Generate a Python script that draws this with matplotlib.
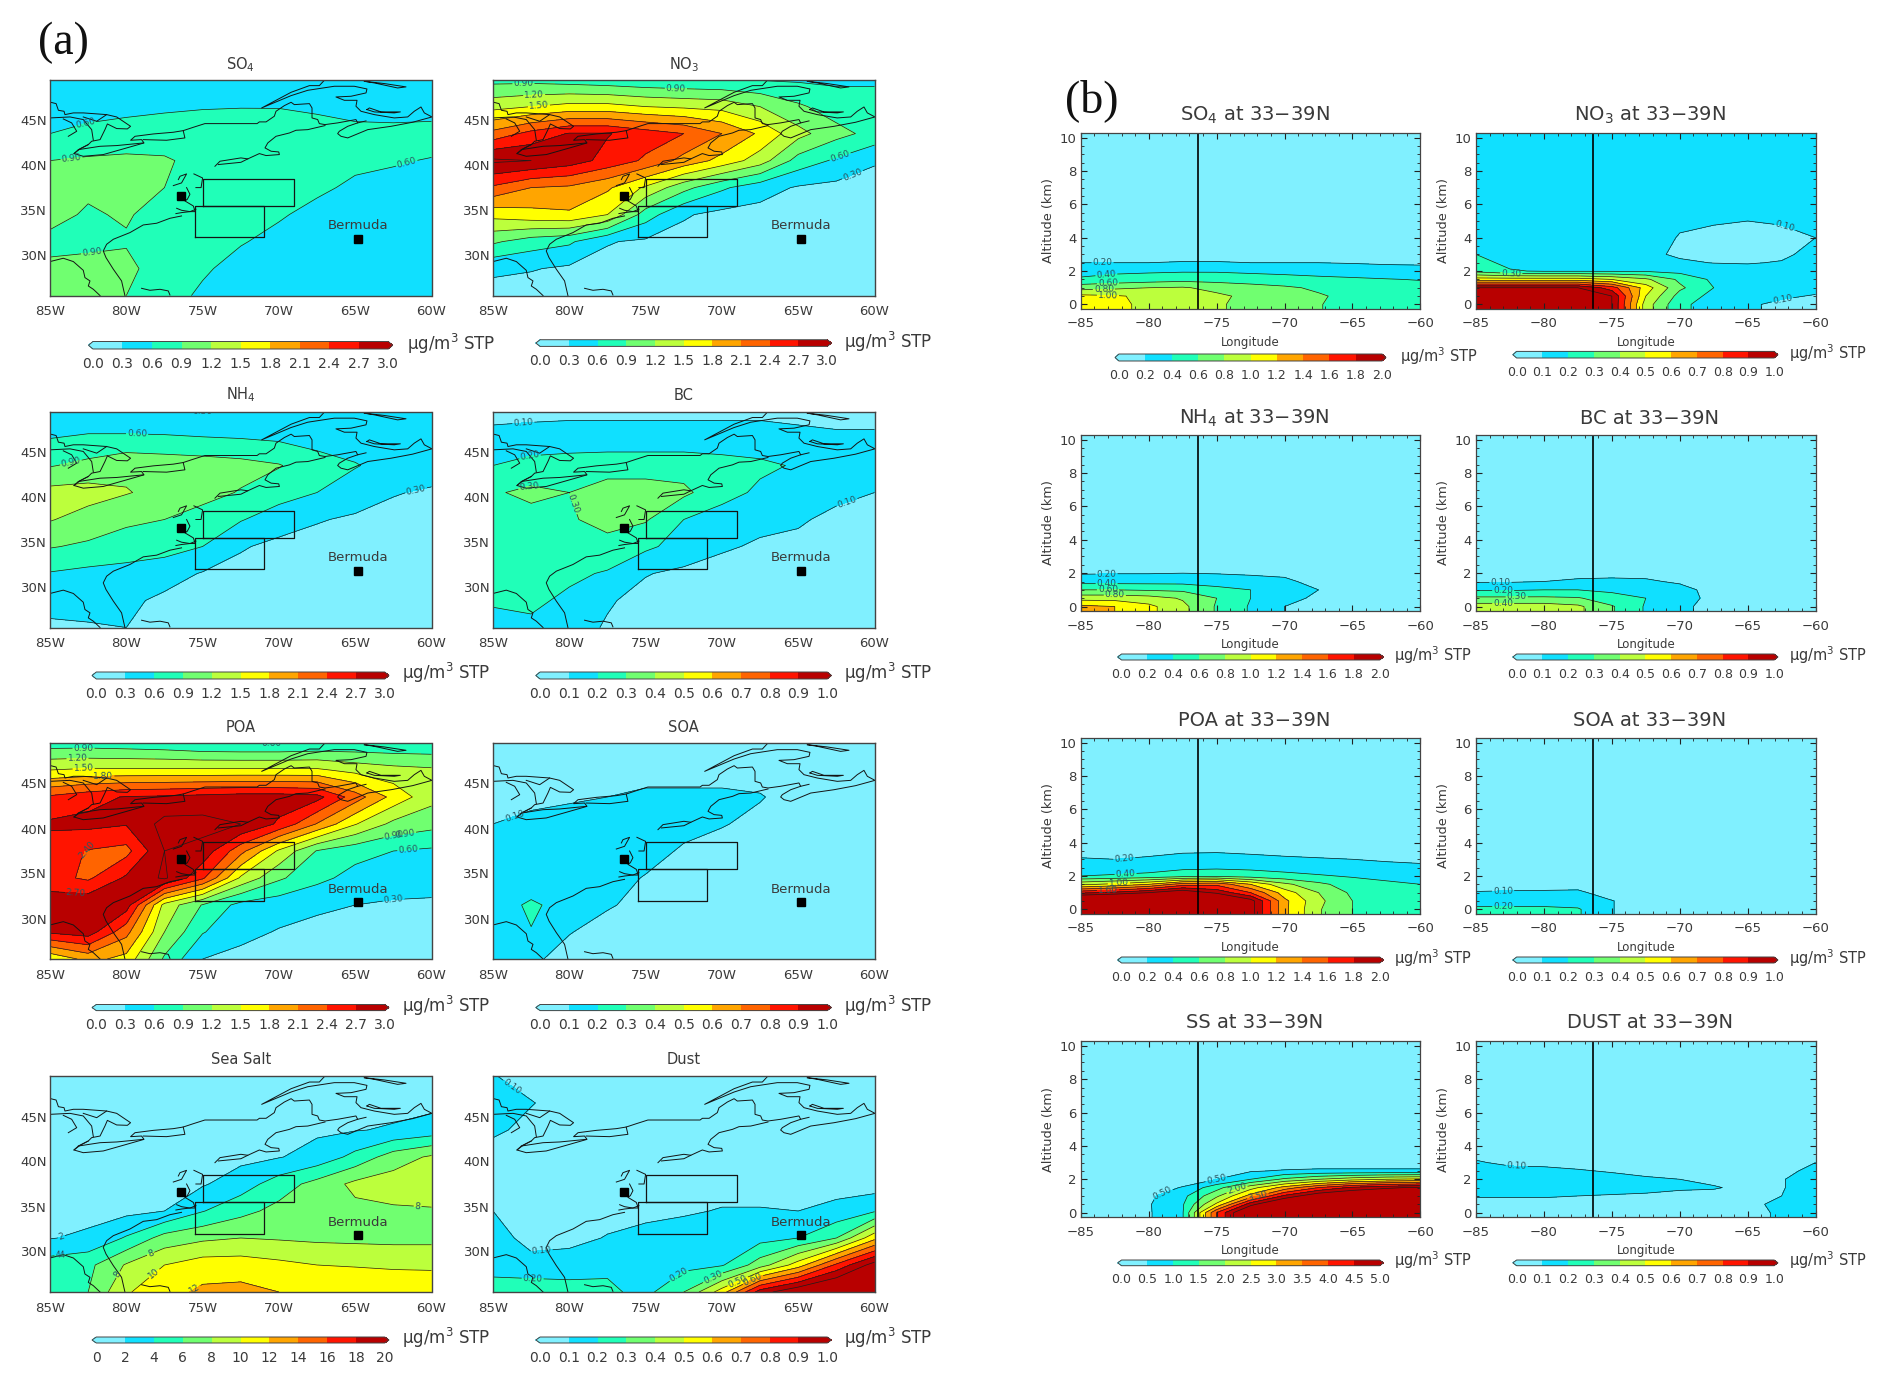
import numpy as np
import matplotlib
matplotlib.use("Agg")
import matplotlib.pyplot as plt
from matplotlib.colors import ListedColormap, BoundaryNorm
from matplotlib.ticker import MultipleLocator

W, H = 1892, 1385
plt.rcParams['font.family'] = ['DejaVu Sans']
plt.rcParams['mathtext.default'] = 'regular'
INK = '#3a3a3a'

# ---------------------- shared grids ----------------------
MAP_LON = [-85, -82.5, -80, -77.5, -75, -72.5, -70, -67.5, -65, -62.5, -60]
MAP_LAT = [49.5, 46.5, 43.5, 40.5, 37.5, 34.5, 31.5, 28.5, 25.5]
SEC_ALT = [10.5, 6, 5, 4, 3, 2.5, 2, 1.5, 1, 0.5, 0, -0.3]

LEV_3 = [0.0, 0.3, 0.6, 0.9, 1.2, 1.5, 1.8, 2.1, 2.4, 2.7, 3.0]
LEV_1 = [0.0, 0.1, 0.2, 0.3, 0.4, 0.5, 0.6, 0.7, 0.8, 0.9, 1.0]
LEV_2 = [0.0, 0.2, 0.4, 0.6, 0.8, 1.0, 1.2, 1.4, 1.6, 1.8, 2.0]
LEV_5 = [0.0, 0.5, 1.0, 1.5, 2.0, 2.5, 3.0, 3.5, 4.0, 4.5, 5.0]
LEV_20 = [0, 2, 4, 6, 8, 10, 12, 14, 16, 18, 20]

COLORS = ['#80F0FF', '#10E0FF', '#20FFB8', '#70FF70', '#BCFF3C', '#FFFF00',
          '#FFA500', '#FF6400', '#FF1400', '#B80000']

# ---------------------- horizontal maps, µg/m3 ----------------------
SO4_MAP = [
 [.40,.40,.42,.42,.42,.42,.42,.42,.42,.42,.42],
 [.45,.48,.52,.55,.58,.59,.59,.56,.50,.45,.42],
 [.60,.68,.72,.76,.76,.76,.74,.70,.68,.70,.75],
 [.90,.94,.96,.93,.82,.76,.72,.69,.66,.63,.58],
 [.95,.93,.93,.90,.80,.74,.70,.65,.55,.50,.45],
 [.95,.88,.92,.82,.72,.68,.63,.52,.45,.40,.38],
 [.86,.87,.88,.78,.68,.62,.52,.45,.40,.38,.35],
 [.93,.94,.96,.78,.64,.50,.45,.42,.38,.35,.33],
 [.96,.96,.90,.72,.55,.48,.42,.40,.36,.33,.32]]
NO3_MAP = [
 [.80,.80,.75,.70,.65,.62,.60,.58,.56,.55,.55],
 [1.4,1.5,1.6,1.6,1.5,1.45,1.4,1.2,.95,.75,.75],
 [2.2,2.5,2.72,2.72,2.55,2.4,2.1,1.75,1.3,1.0,.80],
 [3.05,3.0,2.85,2.6,2.35,2.0,1.7,1.35,.78,.55,.33],
 [2.35,2.1,2.05,1.85,1.45,1.0,.65,.42,.27,.22,.18],
 [1.6,1.7,1.75,1.5,.75,.33,.22,.20,.18,.15,.13],
 [.95,.75,.65,.32,.25,.20,.17,.15,.13,.12,.10],
 [.35,.32,.25,.20,.15,.12,.10,.10,.10,.10,.08],
 [.20,.15,.12,.10,.08,.08,.06,.05,.05,.05,.05]]
NH4_MAP = [
 [.30,.32,.32,.30,.30,.32,.32,.32,.32,.32,.32],
 [.60,.66,.66,.65,.62,.60,.56,.50,.45,.42,.42],
 [.88,.98,1.12,1.08,1.05,1.0,.92,.72,.62,.48,.45],
 [1.3,1.32,1.22,1.1,1.0,.88,.72,.60,.44,.32,.26],
 [1.22,1.08,.95,.90,.78,.62,.45,.32,.26,.20,.18],
 [.92,.85,.78,.72,.60,.33,.22,.20,.15,.12,.10],
 [.58,.52,.48,.42,.28,.20,.15,.12,.10,.10,.10],
 [.40,.38,.36,.24,.15,.10,.10,.10,.10,.10,.10],
 [.25,.28,.30,.20,.12,.10,.10,.10,.10,.10,.10]]
BC_MAP = [
 [.08,.08,.08,.08,.08,.08,.08,.08,.08,.08,.08],
 [.12,.13,.14,.14,.14,.14,.14,.14,.12,.11,.11],
 [.20,.24,.25,.26,.26,.26,.24,.22,.19,.14,.13],
 [.29,.32,.30,.34,.34,.32,.24,.18,.15,.12,.10],
 [.27,.27,.29,.33,.31,.20,.15,.12,.11,.08,.07],
 [.24,.24,.25,.27,.22,.16,.11,.09,.08,.07,.07],
 [.23,.23,.22,.19,.105,.08,.07,.07,.07,.07,.06],
 [.21,.22,.18,.11,.07,.06,.06,.05,.05,.05,.05],
 [.17,.18,.14,.09,.05,.05,.05,.05,.05,.05,.05]]
POA_MAP = [
 [.75,.75,.72,.68,.60,.58,.58,.62,.65,.65,.65],
 [1.5,1.55,1.55,1.55,1.55,1.55,1.55,1.55,1.4,1.3,1.25],
 [2.45,2.6,2.72,2.75,2.8,2.85,2.85,2.8,2.25,1.7,1.3],
 [2.75,2.78,2.72,3.1,3.1,3.0,2.65,2.08,1.52,1.12,1.0],
 [2.55,2.38,2.3,3.0,2.9,2.2,1.45,.88,.70,.60,.55],
 [2.5,2.35,2.75,3.05,2.45,1.45,.95,.68,.50,.42,.38],
 [2.9,2.95,2.85,1.4,.88,.50,.42,.35,.30,.27,.27],
 [2.75,2.85,2.2,1.2,.62,.38,.28,.22,.18,.15,.12],
 [1.55,1.9,1.7,.85,.30,.22,.18,.15,.13,.10,.10]]
SOA_MAP = [
 [.04,.04,.04,.04,.04,.04,.04,.04,.04,.04,.04],
 [.05,.05,.06,.07,.08,.08,.08,.07,.06,.05,.05],
 [.07,.08,.09,.10,.11,.11,.11,.105,.07,.05,.05],
 [.10,.12,.13,.14,.14,.125,.105,.08,.06,.05,.05],
 [.13,.14,.14,.14,.13,.09,.07,.06,.05,.05,.04],
 [.13,.12,.14,.13,.095,.07,.05,.05,.05,.04,.04],
 [.14,.22,.15,.11,.07,.05,.05,.04,.04,.04,.04],
 [.14,.195,.105,.06,.05,.04,.04,.04,.04,.04,.04],
 [.12,.12,.06,.05,.04,.04,.04,.04,.04,.04,.04]]
SEA_SALT_MAP = [
 [.5,.5,.5,.5,.5,.5,.5,.5,.5,.5,.5],
 [.5,.5,.5,.5,.6,.7,.8,1.0,1.2,1.4,1.5],
 [.6,.6,.7,.8,1.0,1.2,1.4,1.7,1.9,2.2,2.8],
 [.7,.8,1.0,1.1,1.3,1.5,1.9,2.7,4.6,7.0,8.3],
 [1.0,1.1,1.2,1.4,1.8,3.0,5.0,6.7,8.5,9.0,9.2],
 [1.2,1.3,1.5,2.0,3.9,5.4,6.6,7.2,7.5,7.7,7.8],
 [1.9,2.4,4.2,6.8,7.6,8.0,7.8,7.6,7.5,7.4,7.4],
 [5.0,5.5,8.2,10.0,11.0,11.0,10.5,10.0,9.9,9.8,9.8],
 [5.0,6.0,9.8,11.2,12.4,12.6,12.0,11.5,11.2,11.0,10.8]]
DUST_MAP = [
 [.105,.06,.05,.05,.05,.05,.05,.05,.05,.05,.05],
 [.14,.105,.06,.05,.05,.05,.05,.05,.05,.05,.05],
 [.12,.07,.05,.05,.05,.05,.05,.05,.05,.05,.05],
 [.05,.05,.05,.05,.05,.05,.05,.05,.05,.05,.05],
 [.06,.06,.05,.05,.05,.05,.07,.07,.06,.06,.05],
 [.10,.08,.07,.07,.08,.09,.105,.105,.10,.13,.19],
 [.15,.06,.075,.105,.125,.14,.15,.165,.20,.30,.57],
 [.16,.14,.14,.18,.15,.17,.19,.35,.55,.82,1.05],
 [.25,.26,.25,.22,.17,.30,.55,.95,1.1,1.2,1.3]]

# ---------------------- cross sections, µg/m3 ----------------------
SO4_SEC = [
 [.02]*11, [.03]*11, [.05]*11, [.08]*11, [.14]*11,
 [.20,.20,.20,.21,.21,.20,.20,.20,.19,.18,.18],
 [.35,.36,.37,.38,.38,.36,.34,.32,.30,.27,.25],
 [.42,.47,.50,.53,.52,.50,.48,.45,.43,.41,.39],
 [.72,.76,.80,.82,.74,.68,.63,.57,.52,.50,.47],
 [1.05,1.02,.96,.90,.84,.75,.70,.62,.55,.52,.50],
 [1.10,1.05,.95,.90,.82,.75,.68,.61,.53,.50,.48],
 [1.10,1.05,.95,.90,.82,.75,.68,.61,.53,.50,.48]]
NO3_SEC = [
 [.13]*11, [.13]*11,
 [.13,.13,.13,.13,.12,.11,.105,.105,.10,.105,.12],
 [.15,.14,.13,.13,.12,.115,.098,.085,.08,.085,.10],
 [.20,.16,.15,.14,.13,.115,.09,.08,.075,.085,.125],
 [.24,.17,.15,.14,.13,.12,.11,.098,.095,.105,.125],
 [.27,.21,.19,.19,.19,.19,.17,.14,.13,.13,.13],
 [.55,.55,.55,.55,.50,.42,.28,.18,.14,.14,.14],
 [1.0,1.0,1.0,1.0,.85,.55,.32,.20,.15,.13,.12],
 [1.4,1.4,1.35,1.25,1.0,.50,.26,.17,.13,.11,.095],
 [1.5,1.5,1.4,1.3,1.0,.45,.22,.16,.11,.085,.08],
 [1.5,1.5,1.4,1.3,1.0,.45,.22,.16,.11,.085,.08]]
NH4_SEC = [
 [.01]*11, [.02]*11, [.03]*11, [.05]*11, [.08]*11,
 [.12,.12,.13,.14,.12,.11,.10,.08,.06,.05,.05],
 [.18,.19,.19,.20,.19,.18,.17,.10,.07,.06,.05],
 [.33,.33,.33,.33,.31,.26,.23,.15,.09,.07,.05],
 [.60,.60,.58,.56,.46,.40,.27,.20,.12,.08,.06],
 [.92,.92,.88,.78,.60,.40,.25,.17,.10,.07,.05],
 [1.25,1.2,1.05,.85,.58,.38,.20,.14,.09,.06,.05],
 [1.25,1.2,1.05,.85,.58,.38,.20,.14,.09,.06,.05]]
BC_SEC = [
 [.01]*11, [.01]*11, [.02]*11, [.02]*11, [.03]*11, [.04]*11,
 [.06,.06,.07,.08,.08,.08,.06,.04,.03,.02,.02],
 [.09,.09,.10,.11,.115,.11,.09,.05,.03,.02,.02],
 [.19,.19,.20,.20,.18,.15,.125,.075,.03,.02,.02],
 [.32,.32,.32,.31,.24,.20,.13,.08,.03,.02,.02],
 [.45,.45,.45,.42,.31,.19,.12,.07,.03,.02,.02],
 [.45,.45,.45,.42,.31,.19,.12,.07,.03,.02,.02]]
POA_SEC = [
 [.01]*11, [.03]*11, [.06]*11,
 [.10,.10,.10,.13,.14,.13,.11,.10,.09,.08,.07],
 [.21,.20,.22,.24,.24,.23,.22,.21,.20,.18,.17],
 [.32,.31,.32,.36,.37,.36,.33,.30,.28,.25,.23],
 [.40,.42,.45,.52,.55,.50,.46,.42,.38,.33,.30],
 [.95,1.05,1.2,1.5,1.55,1.2,.85,.65,.50,.45,.40],
 [1.75,1.85,2.0,2.2,1.95,1.6,1.1,.80,.56,.47,.42],
 [2.6,2.7,2.8,2.9,2.6,2.1,1.25,.85,.60,.50,.44],
 [2.8,2.9,3.0,3.0,2.7,2.1,1.25,.82,.60,.50,.44],
 [2.8,2.9,3.0,3.0,2.7,2.1,1.25,.82,.60,.50,.44]]
SOA_SEC = [
 [.01]*11, [.01]*11, [.01]*11, [.02]*11, [.02]*11, [.02]*11, [.03]*11,
 [.04,.05,.06,.06,.04,.02,.02,.02,.02,.02,.02],
 [.11,.115,.115,.12,.05,.02,.02,.02,.02,.02,.02],
 [.16,.16,.16,.15,.105,.03,.02,.02,.02,.02,.02],
 [.22,.22,.22,.21,.105,.03,.02,.02,.02,.02,.02],
 [.22,.22,.22,.21,.105,.03,.02,.02,.02,.02,.02]]
SS_SEC = [
 [.02]*11, [.02]*11, [.02]*11, [.02]*11,
 [.03,.03,.03,.05,.10,.15,.18,.20,.20,.20,.20],
 [.03,.03,.04,.06,.30,.45,.55,.60,.60,.60,.60],
 [.03,.03,.05,.12,.50,1.0,1.6,2.0,2.3,2.5,2.6],
 [.03,.05,.12,.55,1.3,2.3,3.2,4.0,4.6,4.9,5.1],
 [.03,.05,.40,.85,1.9,3.2,4.6,5.5,5.8,5.9,6.0],
 [.03,.06,.46,.95,2.6,4.8,6.0,6.5,6.6,6.6,6.6],
 [.03,.06,.45,.96,4.0,6.0,7.0,7.0,7.0,7.0,7.0],
 [.03,.06,.45,.96,4.0,6.0,7.0,7.0,7.0,7.0,7.0]]
DUST_SEC = [
 [.02]*11, [.03]*11, [.04]*11,
 [.07,.07,.06,.06,.05,.05,.05,.05,.05,.05,.07],
 [.105,.09,.09,.08,.07,.06,.05,.05,.05,.06,.10],
 [.12,.115,.11,.105,.095,.08,.07,.06,.06,.08,.12],
 [.13,.13,.13,.125,.12,.11,.10,.085,.07,.095,.14],
 [.13,.13,.13,.13,.125,.12,.11,.105,.085,.095,.14],
 [.105,.105,.105,.10,.095,.09,.08,.08,.08,.10,.14],
 [.08,.08,.08,.08,.07,.07,.06,.06,.09,.11,.14],
 [.07,.07,.07,.07,.06,.06,.05,.05,.08,.11,.13],
 [.07,.07,.07,.07,.06,.06,.05,.05,.08,.11,.13]]

# ---------------------- coastlines (lon, lat) ----------------------
COAST = [
 [(-85,47.0),(-84.6,46.83),(-84.45,46.09),(-84.08,45.98),(-84.02,45.61),(-83.47,45.8),(-82.82,45.8),
  (-81.29,45.61),(-80.63,45.35),(-79.72,44.31),(-79.93,44.02),(-80.63,44.06),(-81.24,44.57),(-81.4,43.94),
  (-81.72,42.83),(-82.27,42.65),(-82.49,42.28),(-83.03,41.8),(-83.43,41.28),(-82.82,40.98),(-81.51,41.17),
  (-80.2,41.8),(-78.84,42.46),(-79.0,42.83),(-79.72,42.76),(-79.43,43.2),(-78.23,43.46),(-76.92,43.65),
  (-76.27,43.83),(-75.61,44.2),(-74.85,44.61),(-72.49,44.61),(-71.43,44.61),(-71.28,44.8),(-70.84,44.8),
  (-70.3,45.43),(-70.19,45.98),(-69.64,46.61),(-69.2,46.98),(-68.99,46.72),(-68.0,46.83),(-67.83,46.35),
  (-67.83,45.24),(-67.46,45.06),(-67.35,44.61),(-66.98,44.5),(-66.15,44.69),(-64.95,45.06),(-64.84,44.69),
  (-64.29,44.91)],
 [(-83.14,41.72),(-81.72,42.09),(-80.63,42.17),(-78.89,42.46)],
 [(-83.43,41.28),(-83.14,41.72),(-82.49,42.28)],
 [(-76.27,43.83),(-76.16,43.02),(-77.36,42.76),(-78.89,42.83)],
 [(-85,45.24),(-83.69,45.35),(-82.82,45.06),(-82.27,43.94),(-82.16,42.76)],
 [(-83.8,43.2),(-83.25,43.76),(-83.58,44.69),(-84.13,45.13)],
 [(-82.82,45.35),(-81.94,44.87),(-81.29,45.61)],
 [(-76.92,37.72),(-76.38,38.02),(-76.05,39.02),(-76.48,38.76),(-76.59,38.39)],
 [(-75.57,39.02),(-75.0,38.57),(-75.1,37.5),(-75.44,37.5)],
 [(-76.05,37.5),(-75.83,36.76),(-76.0,36.2),(-76.16,36.02),(-75.61,35.46),(-75.48,34.83),(-75.83,34.83),
  (-76.38,34.98),(-76.7,35.2)],
 [(-76.75,34.61),(-76.38,34.72),(-75.83,34.83),(-75.44,35.09)],
 [(-74.19,39.87),(-73.86,40.43),(-72.49,40.8),(-72.04,40.69),(-71.28,41.28),(-70.84,41.06),(-69.97,41.17),
  (-70.01,41.46),(-70.51,41.54),(-70.91,41.91),(-70.73,42.46),(-70.19,43.2),(-69.31,43.57),(-68.88,43.87),
  (-68.11,43.94),(-66.98,44.39)],
 [(-73.97,40.06),(-72.49,40.31),(-72.04,40.69)],
 [(-64.84,44.69),(-65.49,44.31),(-66.04,43.76),(-66.15,43.5),(-65.93,43.2),(-65.49,43.02),(-64.18,43.94),
  (-62.65,44.31),(-61.24,44.76),(-59.97,45.35),(-60.47,45.8),(-60.69,46.46),(-61.13,45.98),(-61.56,45.35),
  (-62.44,45.24),(-63.75,45.61),(-64.62,45.98),(-64.95,46.54),(-64.88,47.2),(-65.71,47.2),(-66.26,47.57),
  (-65.27,47.65),(-64.29,48.02),(-64.23,48.46),(-65.06,48.76),(-66.37,48.76),(-68.11,48.31),(-69.2,47.72),
  (-71.13,46.35),(-69.2,48.09),(-68.0,48.83),(-67.35,48.83),(-66.98,49.5)],
 [(-64.23,46.17),(-64.07,46.35),(-63.31,45.91),(-62.04,45.91),(-62.44,45.8),(-63.75,45.91),(-64.23,46.17)],
 [(-64.4,49.31),(-63.09,49.06),(-61.67,48.69),(-62.22,48.57),(-63.75,49.13),(-64.4,49.31)],
 [(-76.38,34.35),(-77.14,34.09),(-78.01,33.54),(-78.89,33.35),(-79.76,32.5),(-80.85,31.76),(-81.29,31.2),
  (-81.51,30.46),(-81.33,29.72),(-80.85,28.43),(-80.31,27.13),(-80.09,25.5)],
 [(-85,29.28),(-84.13,29.65),(-83.47,29.28),(-82.82,28.31),(-82.71,27.5),(-82.38,27.13),(-82.49,26.57),
  (-82.16,26.2),(-81.72,25.5)],
 [(-79.0,26.31),(-78.45,26.09),(-77.79,26.2),(-77.25,26.02),(-77.14,25.57)],
]
BOX_NORTH = [(-75, 35.5), (-69, 35.5), (-69, 38.5), (-75, 38.5), (-75, 35.5)]
BOX_SOUTH = [(-75.5, 32), (-71, 32), (-71, 35.5), (-75.5, 35.5), (-75.5, 32)]
SITE = (-76.4, 36.6)
BERMUDA = (-64.8, 31.8)

# ---------------------- panel tables ----------------------
# (title, data, levels, format, col, row, colorbar px (x0,x1,y0,y1), unit px (x,y), contour labels)
MAP_COLS = [50, 493]
MAP_ROWS = [79.6, 411.5, 743, 1076]
MAP_W, MAP_H = 381.5, 216
MAP_TITLE_Y = [65, 395, 728, 1060]
MAPS = [
 ('SO$_4$', SO4_MAP, LEV_3, '%.2f', 0, 0, (88.5, 392.7, 341.5, 349), (407, 344),
  [(-61.7, 40.7), (-82.3, 31.0), (-83.6, 40.9), (-82.6, 44.1)]),
 ('NO$_3$', NO3_MAP, LEV_3, '%.2f', 1, 0, (535.8, 831.5, 339.7, 346.4), (844, 342),
  [(-83, 48.6), (-82.3, 47.6), (-82, 46.8), (-62.3, 41.2), (-61.5, 39.2), (-73, 49.3)]),
 ('NH$_4$', NH4_MAP, LEV_3, '%.2f', 0, 1, (92, 389, 672, 679), (402, 673),
  [(-75, 49.4), (-79.3, 46.6), (-61, 40.7), (-83.6, 43.6)]),
 ('BC', BC_MAP, LEV_1, '%.2f', 1, 1, (535.8, 831.5, 672, 679), (844, 673),
  [(-83, 48.0), (-80, 39.1), (-82.5, 40.3), (-61.8, 39.4), (-82.5, 44.0)]),
 ('POA', POA_MAP, LEV_3, '%.2f', 0, 2, (92, 389, 1004.5, 1010.6), (402, 1006),
  [(-82.8, 48.7), (-83.2, 47.8), (-82.8, 46.9), (-81.5, 45.7), (-82.5, 37.3), (-83.3, 32.9),
   (-62.5, 39.9), (-62, 38.9), (-61.5, 37.2), (-62.5, 32.6), (-70.5, 49.3)]),
 ('SOA', SOA_MAP, LEV_1, '%.2f', 1, 2, (535.8, 831.5, 1004.5, 1010.6), (844, 1006),
  [(-83.5, 41.0)]),
 ('Sea Salt', SEA_SALT_MAP, LEV_20, '%d', 0, 3, (92, 389, 1337, 1343), (402, 1338),
  [(-84.2, 31.3), (-84.2, 29.4), (-84.2, 27.8), (-80, 26.9), (-60.9, 35.3), (-78.2, 28.9), (-78, 27.2), (-75.5, 25.8)]),
 ('Dust', DUST_MAP, LEV_1, '%.2f', 1, 3, (535.8, 831.5, 1337, 1343), (844, 1338),
  [(-83.9, 47.9), (-81.8, 29.8), (-82.4, 27.1), (-72.5, 26.6), (-70.5, 26.8), (-69, 26.8), (-68, 27)]),
]
SEC_COLS = [1080.8, 1476]
SEC_ROWS = [132.6, 434.7, 737.5, 1040.8]
SEC_W, SEC_H = 339.6, 176.5
SEC_TITLE_Y = [115.5, 418, 720.5, 1023]
SECS = [
 ('SO$_4$ at 33\u221239N', SO4_SEC, LEV_2, 0, 0, (1115, 1386, 354, 361), (1400, 356),
  [(-83.4, 2.5), (-83.1, 1.6), (-83, 1.25), (-83.3, 0.9), (-83, 0.55)]),
 ('NO$_3$ at 33\u221239N', NO3_SEC, LEV_1, 1, 0, (1512.8, 1778, 351.4, 358), (1789, 353),
  [(-62.2, 4.8), (-62.5, 0.6), (-82.4, 1.95)]),
 ('NH$_4$ at 33\u221239N', NH4_SEC, LEV_2, 0, 1, (1117.7, 1383.5, 654, 660), (1394, 655),
  [(-83.1, 1.8), (-83.1, 1.25), (-83, 0.95), (-82.5, 0.55)]),
 ('BC at 33\u221239N', BC_SEC, LEV_1, 1, 1, (1512.8, 1778, 654, 660), (1789, 655),
  [(-83.2, 1.35), (-83, 0.95), (-82, 0.55), (-83, 0.25)]),
 ('POA at 33\u221239N', POA_SEC, LEV_2, 0, 2, (1117.7, 1383.5, 957, 963), (1394, 958),
  [(-81.8, 3.05), (-81.7, 2.05), (-82.2, 1.6), (-83, 1.2)]),
 ('SOA at 33\u221239N', SOA_SEC, LEV_1, 1, 2, (1512.8, 1778, 957, 963), (1789, 958),
  [(-83, 1.0), (-83, 0.25)]),
 ('SS at 33\u221239N', SS_SEC, LEV_5, 0, 3, (1117.7, 1383.5, 1260, 1265.7), (1394, 1260),
  [(-78.9, 0.95), (-75, 1.9), (-73.5, 1.4), (-72, 1.1)]),
 ('DUST at 33\u221239N', DUST_SEC, LEV_1, 1, 3, (1512.8, 1778, 1260, 1265.7), (1789, 1260),
  [(-82, 2.95)]),
]


def rect(x0, y0, w, h):
    return [x0 / W, 1 - (y0 + h) / H, w / W, h / H]


def put_text(x, y, s, **kw):
    kw.setdefault('ha', 'center')
    kw.setdefault('va', 'center')
    kw.setdefault('color', INK)
    fig.text(x / W, 1 - y / H, s, **kw)


def draw_field(ax, x, y, data, levels, fmt, labels):
    cmap = ListedColormap(COLORS)
    cmap.set_under(COLORS[0])
    cmap.set_over(COLORS[-1])
    norm = BoundaryNorm(levels, 10)
    cf = ax.contourf(x, y, np.array(data, float), levels=levels, cmap=cmap, norm=norm, extend='both')
    cs = ax.contour(x, y, np.array(data, float), levels=levels[1:], colors='#1c1c1c', linewidths=0.5)
    if labels:
        ax.clabel(cs, fmt=fmt, manual=labels, fontsize=6.5, inline=True, inline_spacing=1, colors='#2a5560')
    return cf


def add_bar(cf, levels, box, unit, tick_size, unit_size, fmt):
    x0, x1, y0, y1 = box
    cax = fig.add_axes(rect(x0, y0, x1 - x0, y1 - y0))
    cb = fig.colorbar(cf, cax=cax, orientation='horizontal', ticks=levels, extend='both',
                      extendfrac=0.015, drawedges=False, spacing='uniform')
    cb.ax.set_xticklabels([fmt % v for v in levels])
    cb.ax.tick_params(length=0, pad=5.5, labelsize=tick_size, labelcolor=INK)
    cb.outline.set_linewidth(0.7)
    cb.outline.set_edgecolor('#444444')
    put_text(unit[0], unit[1], '\u03bcg/m$^3$ STP', ha='left', fontsize=unit_size)


fig = plt.figure(figsize=(W / 100, H / 100), dpi=100, facecolor='white')

for title, data, levels, fmt, c, r, box, unit, labels in MAPS:
    ax = fig.add_axes(rect(MAP_COLS[c], MAP_ROWS[r], MAP_W, MAP_H))
    cf = draw_field(ax, MAP_LON, MAP_LAT, data, levels, fmt, labels)
    for seg in COAST:
        ax.plot([p[0] for p in seg], [p[1] for p in seg], color='#141414', lw=0.7, solid_joinstyle='round')
    for b in (BOX_NORTH, BOX_SOUTH):
        ax.plot([p[0] for p in b], [p[1] for p in b], color='#141414', lw=0.9)
    ax.plot(*SITE, marker='s', ms=5.5, color='black', ls='none')
    ax.plot(*BERMUDA, marker='s', ms=5.5, color='black', ls='none')
    ax.text(BERMUDA[0], 33.25, 'Bermuda', ha='center', va='center', fontsize=9.5, color=INK)
    ax.set_xlim(-85, -60)
    ax.set_ylim(25.5, 49.5)
    ax.set_xticks([-85, -80, -75, -70, -65, -60], ['85W', '80W', '75W', '70W', '65W', '60W'])
    ax.set_yticks([30, 35, 40, 45], ['30N', '35N', '40N', '45N'])
    ax.tick_params(length=0, labelsize=9.5, labelcolor=INK)
    ax.tick_params(axis='x', pad=7)
    ax.tick_params(axis='y', pad=2)
    for s in ax.spines.values():
        s.set_linewidth(1.0)
        s.set_color('#444444')
    put_text(MAP_COLS[c] + MAP_W / 2, MAP_TITLE_Y[r], title, fontsize=10.5)
    add_bar(cf, levels, box, unit, 10, 12, '%d' if levels is LEV_20 else '%.1f')

for title, data, levels, c, r, box, unit, labels in SECS:
    ax = fig.add_axes(rect(SEC_COLS[c], SEC_ROWS[r], SEC_W, SEC_H))
    cf = draw_field(ax, MAP_LON, SEC_ALT, data, levels, '%.2f', labels)
    ax.axvline(-76.4, color='black', lw=1.2)
    ax.set_xlim(-85, -60)
    ax.set_ylim(-0.28, 10.3)
    ax.set_xticks([-85, -80, -75, -70, -65, -60], ['\u221285', '\u221280', '\u221275', '\u221270', '\u221265', '\u221260'])
    ax.set_yticks([0, 2, 4, 6, 8, 10])
    ax.xaxis.set_minor_locator(MultipleLocator(1))
    ax.yaxis.set_minor_locator(MultipleLocator(0.5))
    ax.tick_params(which='major', direction='in', length=4, width=0.8, top=True, right=True,
                   labelsize=9.5, labelcolor=INK, color='#222222')
    ax.tick_params(which='minor', direction='in', length=2, width=0.6, top=True, right=True, color='#222222')
    ax.tick_params(axis='x', pad=6)
    ax.tick_params(axis='y', pad=3)
    ax.set_xlabel('Longitude', fontsize=8.5, color=INK, labelpad=4)
    ax.set_ylabel('Altitude (km)', fontsize=9.3, color=INK)
    ax.yaxis.set_label_coords(-0.076, 0.5)
    for s in ax.spines.values():
        s.set_linewidth(0.9)
        s.set_color('#444444')
    put_text(SEC_COLS[c] + SEC_W / 2 + 4, SEC_TITLE_Y[r], title, fontsize=14)
    add_bar(cf, levels, box, unit, 9, 10.5, '%.1f')

put_text(63.5, 43, '(a)', fontsize=33, family='Liberation Serif', color='#111111')
put_text(1091.5, 101, '(b)', fontsize=33, family='Liberation Serif', color='#111111')

fig.savefig('out.png', dpi=100, facecolor='white')
